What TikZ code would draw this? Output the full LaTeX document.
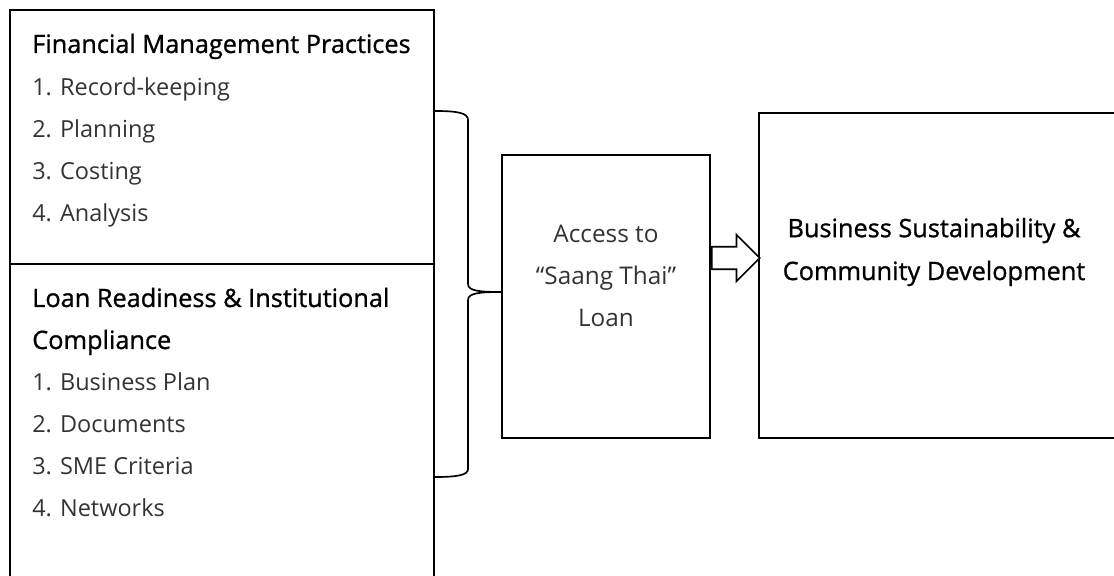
\documentclass[tikz,border=0pt]{standalone}
\usepackage{fontspec}
\setmainfont{Open Sans}
\newfontfamily\headfont[FakeBold=1]{Open Sans}
\usetikzlibrary{shapes.arrows}

\begin{document}
\begin{tikzpicture}[x=0.025cm,y=-0.025cm]
\tikzstyle{box}=[rectangle,draw,line width=1.2pt,inner sep=0pt]
\tikzstyle{head}=[anchor=base west,inner sep=0pt,font=\headfont\fontsize{18}{30}\selectfont]
\tikzstyle{item}=[anchor=base west,inner sep=0pt,text=black!80,font=\fontsize{16.7}{30}\selectfont]
\tikzstyle{mtext}=[align=center,inner sep=0pt,text=black!80,font=\fontsize{17.3}{29.8}\selectfont]
\useasboundingbox (0,0) rectangle (1114,576);

% boxes
\node[box,minimum width=10.6cm,minimum height=6.35cm] (fmp) at (222,137) {} ;
\node[box,minimum width=10.6cm,minimum height=8.4cm] (lrc) at (222,432) {} ;
\node[box,minimum width=5.2cm,minimum height=7.075cm] (loan) at (606,296.5) {} ;
\node[box,minimum width=9.525cm,minimum height=8.125cm] (bsc) at (949.5,275.5) {} ;

% left texts
\node[head] (h1) at (32,53) {Financial Management Practices} ;
\node[item] (a1) at (32,96) {1. Record-keeping} ;
\node[item] (a2) at (32,138) {2. Planning} ;
\node[item] (a3) at (32,180) {3. Costing} ;
\node[item] (a4) at (32,222) {4. Analysis} ;
\node[head] (h2) at (32,307) {Loan Readiness \& Institutional} ;
\node[head] (h3) at (32,349) {Compliance} ;
\node[item] (b1) at (32,391) {1. Business Plan} ;
\node[item] (b2) at (32,433) {2. Documents} ;
\node[item] (b3) at (32,475) {3. SME Criteria} ;
\node[item] (b4) at (32,517) {4. Networks} ;

% middle and right texts
\node[mtext] (t1) at (606,276) {Access to\\“Saang Thai”\\Loan} ;
\node[align=center,inner sep=0pt,font=\headfont\fontsize{18}{30.5}\selectfont] (t2) at (934,252) {Business Sustainability \&\\Community Development} ;

% brace
\coordinate (btop) at (fmp.east |- 0,111) ;
\coordinate (bbot) at (lrc.east |- 0,477) ;
\coordinate (btip) at (loan.west |- 0,292) ;
\draw[line width=1.2pt] (btop) .. controls (458,111) and (468,113) .. (468,120)
  -- (468,284) .. controls (468,291) and (480,292) .. (btip)
  .. controls (480,292) and (468,293) .. (468,300)
  -- (468,469) .. controls (468,475) and (458,477) .. (bbot) ;

% arrow
\node[single arrow,draw,line width=1.2pt,fill=white,minimum height=1.2cm,
  inner xsep=0pt,inner ysep=0.26cm,single arrow head extend=0.3cm,single arrow head indent=0pt,anchor=tail]
  (arr) at (loan.east |- 0,258) {} ;

\end{tikzpicture}
\end{document}
